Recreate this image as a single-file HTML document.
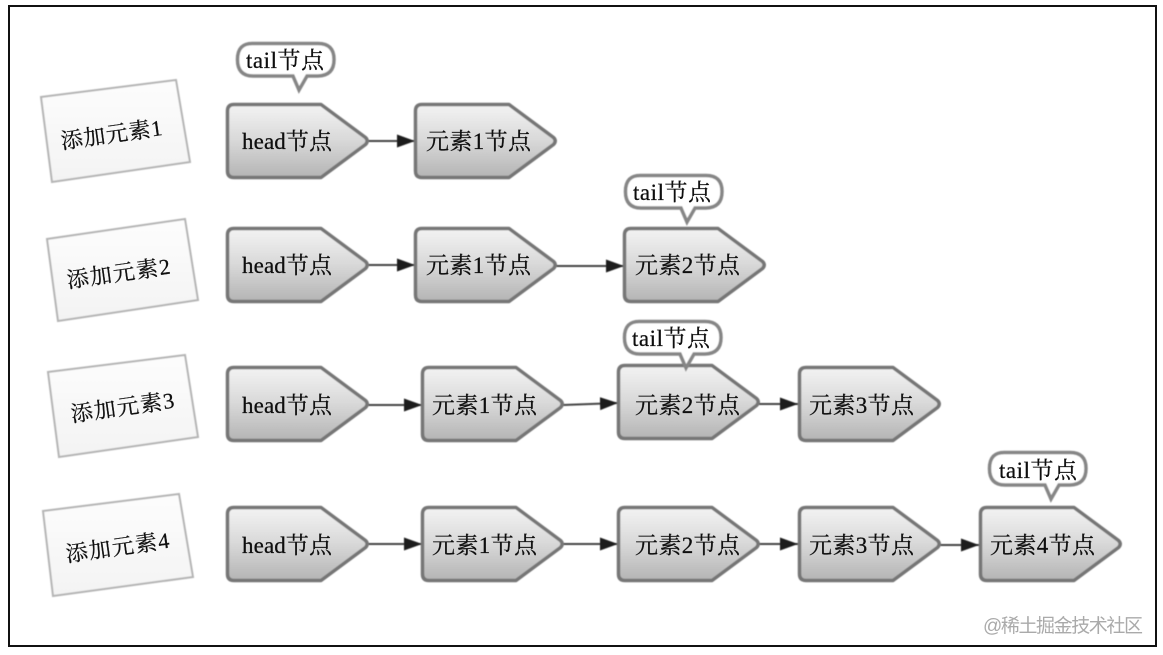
<!DOCTYPE html>
<html><head><meta charset="utf-8"><style>
html,body{margin:0;padding:0;background:#fff;width:1163px;height:655px;overflow:hidden}
svg{display:block}
text{font-family:"Liberation Serif","Noto Serif CJK SC",serif;fill:#0e0e0e;stroke:#0e0e0e;stroke-width:.25px;font-size:23px}
.st{font-size:22px}
.wm{font-family:"Liberation Sans","Noto Sans CJK SC",sans-serif;fill:#aaaaaa;stroke:none;font-size:19px}
</style></head><body>
<svg width="1163" height="655" viewBox="0 0 1163 655" xmlns="http://www.w3.org/2000/svg">
<defs>
<linearGradient id="g" x1="0" y1="0" x2="0" y2="1"><stop offset="0" stop-color="#f3f3f3"/><stop offset="0.5" stop-color="#d8d8d8"/><stop offset="1" stop-color="#b4b4b4"/></linearGradient>
<linearGradient id="s" x1="0" y1="0" x2="0" y2="1"><stop offset="0" stop-color="#fdfdfd"/><stop offset="1" stop-color="#f3f3f3"/></linearGradient>
<filter id="b" x="-5%" y="-5%" width="110%" height="110%"><feGaussianBlur stdDeviation="0.4"/></filter>
<symbol id="n" overflow="visible"><path d="M8 1.500H95L139.500 34.500Q143 38 139.500 41.500L95 74.500H8Q1.500 74.500 1.500 68V8Q1.500 1.500 8 1.500Z" fill="url(#g)" stroke="#767676" stroke-width="3.500" stroke-linejoin="round"/></symbol>
<symbol id="c" overflow="visible"><path d="M17 1.500H82Q98 1.500 98 17.500T82 34H71L63 48 57 34H17Q1.500 34 1.500 17.500T17 1.500Z" fill="#fff" stroke="#868686" stroke-width="3.500"/></symbol>
<marker id="a" markerWidth="20" markerHeight="14" refX="18" refY="6.500" orient="auto" markerUnits="userSpaceOnUse"><path d="M0 0L18 6.500 0 13Z" fill="#1b1b1b"/></marker>
</defs>
<rect x="9" y="6" width="1147" height="640" fill="#fff" stroke="#111" stroke-width="2"/>
<g filter="url(#b)">
<g fill="url(#s)" stroke="#b4b4b4" stroke-width="2">
<polygon points="41,97 176,80 190,162 52,182"/>
<polygon points="47,239 185,219 198,300 58,321"/>
<polygon points="48,372 185,355 198,437 59,457"/>
<polygon points="43,511 179,494 193,577 53,596"/>
</g>
<g stroke="#444" stroke-width="2" fill="none">
<path d="M368 141H415" marker-end="url(#a)"/>
<path d="M368 265H415" marker-end="url(#a)"/>
<path d="M555 266H624" marker-end="url(#a)"/>
<path d="M368 405H422" marker-end="url(#a)"/>
<path d="M563 405L618 403" marker-end="url(#a)"/>
<path d="M759 404H798" marker-end="url(#a)"/>
<path d="M368 544H422" marker-end="url(#a)"/>
<path d="M563 544H618" marker-end="url(#a)"/>
<path d="M759 544H798" marker-end="url(#a)"/>
<path d="M940 545H979" marker-end="url(#a)"/>
</g>
<use href="#n" x="226" y="103"/><use href="#n" x="414" y="103"/>
<use href="#n" x="226" y="227"/><use href="#n" x="414" y="227"/><use href="#n" x="623" y="227"/>
<use href="#n" x="226" y="366"/><use href="#n" x="421" y="366"/><use href="#n" x="798" y="366"/>
<use href="#n" x="226" y="506"/><use href="#n" x="421" y="506"/><use href="#n" x="617" y="506"/><use href="#n" x="798" y="506"/><use href="#n" x="979" y="506"/>
<use href="#n" x="617" y="364"/>
<use href="#c" x="236" y="42"/><use href="#c" x="624" y="174"/><use href="#c" x="623" y="320"/><use href="#c" x="988" y="451"/>
</g>
<text x="242" y="149" textLength="90">head节点</text>
<text x="426" y="149" textLength="105">元素1节点</text>
<text x="242" y="273" textLength="90">head节点</text>
<text x="426" y="273" textLength="105">元素1节点</text>
<text x="635" y="273" textLength="105">元素2节点</text>
<text x="242" y="413" textLength="90">head节点</text>
<text x="432" y="413" textLength="105">元素1节点</text>
<text x="635" y="413" textLength="105">元素2节点</text>
<text x="809" y="413" textLength="105">元素3节点</text>
<text x="242" y="553" textLength="90">head节点</text>
<text x="432" y="553" textLength="105">元素1节点</text>
<text x="635" y="553" textLength="105">元素2节点</text>
<text x="809" y="553" textLength="105">元素3节点</text>
<text x="990" y="553" textLength="105">元素4节点</text>
<text x="246" y="68" textLength="78">tail节点</text>
<text x="633" y="200" textLength="78">tail节点</text>
<text x="632" y="346" textLength="78">tail节点</text>
<text x="999" y="478" textLength="78">tail节点</text>
<text class="st" transform="translate(62,149) rotate(-8)" textLength="102">添加元素1</text>
<text class="st" transform="translate(68,288) rotate(-8)" textLength="104">添加元素2</text>
<text class="st" transform="translate(72,422) rotate(-8)" textLength="104">添加元素3</text>
<text class="st" transform="translate(67,562) rotate(-8)" textLength="104">添加元素4</text>
<text class="wm" x="983" y="632" textLength="160">@稀土掘金技术社区</text>
</svg>
</body></html>
